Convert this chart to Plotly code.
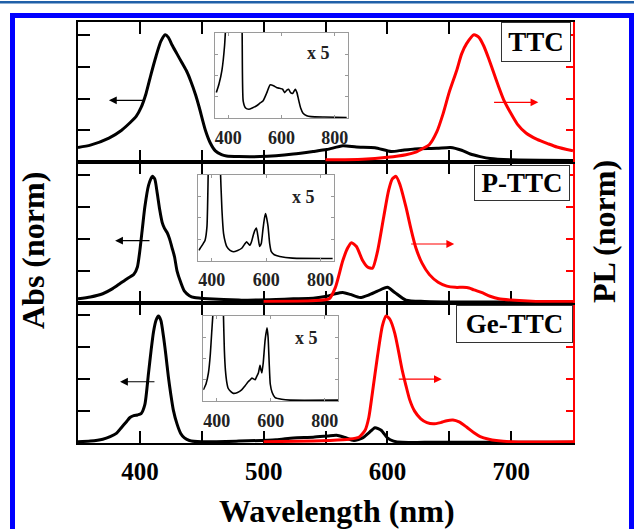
import plotly.graph_objects as go

# ---------------- data ----------------
# TTC (top panel)
ttc_abs_x = [350, 360, 375, 385, 392, 397, 401, 405, 409, 413, 417, 420.5, 423, 426, 430, 434, 438, 441, 445, 448,
             453, 457, 461, 466, 470, 480, 497, 510, 524, 540, 551, 564, 575, 590, 603, 612, 622, 640, 651, 660, 667,
             675, 683, 700, 750]
ttc_abs_y = [0.117, 0.135, 0.19, 0.25, 0.31, 0.36, 0.43, 0.54, 0.69, 0.83, 0.95, 1.0, 0.98, 0.92, 0.85, 0.78, 0.71,
             0.64, 0.53, 0.43, 0.25, 0.15, 0.09, 0.06, 0.05, 0.045, 0.045, 0.052, 0.065, 0.085, 0.10, 0.13, 0.12,
             0.115, 0.085, 0.095, 0.105, 0.11, 0.117, 0.095, 0.065, 0.045, 0.03, 0.02, 0.015]
ttc_pl_x = [550, 580, 600, 615, 623, 629, 634, 640, 645, 650, 656, 660, 664, 670, 674, 678, 682, 686, 690, 694, 700,
            705, 712, 721, 730, 737, 750]
ttc_pl_y = [0.02, 0.025, 0.04, 0.06, 0.08, 0.11, 0.14, 0.24, 0.38, 0.55, 0.72, 0.85, 0.93, 1.0, 0.98, 0.91, 0.81,
            0.70, 0.59, 0.49, 0.38, 0.30, 0.23, 0.18, 0.145, 0.12, 0.09]

# P-TTC (middle panel)
pttc_abs_x = [350, 360, 370, 378, 384, 390, 395, 398, 400, 402, 404, 407, 410, 412, 414, 416, 418, 420, 422, 424,
              426, 428, 430, 433, 436, 440, 444, 455, 480, 510, 524, 540, 551, 558, 564, 570, 578, 585, 592, 600,
              606, 615, 630, 660, 750]
pttc_abs_y = [0.03, 0.045, 0.07, 0.11, 0.15, 0.19, 0.22, 0.28, 0.41, 0.58, 0.75, 0.92, 0.99, 0.97, 0.86, 0.73,
              0.63, 0.58, 0.55, 0.50, 0.43, 0.36, 0.25, 0.16, 0.09, 0.055, 0.04, 0.03, 0.02, 0.025, 0.03, 0.035,
              0.05, 0.07, 0.08, 0.065, 0.04, 0.06, 0.09, 0.12, 0.08, 0.02, 0.01, 0.005, 0.005]
pttc_pl_x = [500, 540, 553, 558, 564, 568, 571, 575, 580, 584, 588, 592, 597, 601, 604, 607, 610, 615, 619, 623,
             628, 634, 641, 648, 655, 661, 666, 670, 676, 683, 690, 700, 720, 750]
pttc_pl_y = [0.01, 0.015, 0.03, 0.12, 0.33, 0.43, 0.47, 0.44, 0.33, 0.28, 0.27, 0.40, 0.67, 0.88, 0.97, 0.99,
             0.93, 0.75, 0.58, 0.43, 0.31, 0.22, 0.16, 0.13, 0.12, 0.12, 0.115, 0.10, 0.08, 0.05, 0.03, 0.02,
             0.01, 0.01]

# Ge-TTC (bottom panel)
gettc_abs_x = [350, 360, 370, 376, 381, 385, 389, 392, 395, 398, 401, 404, 407, 409, 411, 413, 415, 417, 419, 421,
               423, 425, 427, 430, 433, 436, 440, 450, 480, 510, 524, 540, 552, 559, 565, 573, 580, 585, 590, 595,
               600, 605, 612, 630, 750]
gettc_abs_y = [0.01, 0.015, 0.03, 0.05, 0.075, 0.12, 0.165, 0.2, 0.215, 0.22, 0.23, 0.30, 0.55, 0.72, 0.87, 0.96,
               0.995, 0.96, 0.84, 0.69, 0.52, 0.38, 0.26, 0.15, 0.075, 0.04, 0.02, 0.01, 0.015, 0.025, 0.04,
               0.045, 0.055, 0.06, 0.045, 0.02, 0.04, 0.08, 0.12, 0.10, 0.04, 0.015, 0.005, 0.005, 0.005]
gettc_pl_x = [500, 540, 553, 569, 577, 582, 585, 588, 592, 596, 599, 602, 606, 609, 612, 615, 618, 622, 627, 632,
              637, 643, 648, 653, 658, 664, 670, 675, 682, 688, 700, 750]
gettc_pl_y = [0.01, 0.015, 0.02, 0.03, 0.045, 0.10, 0.20, 0.40, 0.68, 0.92, 0.995, 0.97, 0.86, 0.72, 0.57, 0.45,
              0.34, 0.25, 0.19, 0.16, 0.15, 0.16, 0.175, 0.18, 0.165, 0.125, 0.08, 0.05, 0.03, 0.02, 0.01, 0.01]

# insets (absorption x 5)
ttc_in_x = [355, 365, 376, 386, 394, 405, 425, 445, 452, 456, 465, 477, 490, 508, 520, 531, 545, 557, 570, 581,
            593, 604, 612, 620, 627, 634, 642, 652, 658, 664, 672, 681, 695, 711, 760, 845]
ttc_in_y = [0.30, 0.40, 0.56, 0.85, 1.3, 2.0, 2.5, 2.0, 1.0, 0.2, 0.12, 0.105, 0.12, 0.15, 0.18, 0.205, 0.30,
            0.39, 0.38, 0.36, 0.35, 0.34, 0.30, 0.33, 0.34, 0.30, 0.29, 0.34, 0.30, 0.22, 0.12, 0.06, 0.03,
            0.02, 0.015, 0.01]
pttc_in_x = [352, 357, 368, 375, 382, 387, 395, 410, 425, 431, 437, 443, 450, 455, 467, 479, 495, 510, 520, 528,
             534, 540, 546, 551, 558, 564, 570, 576, 582, 588, 594, 598, 603, 607, 613, 619, 630, 650, 697, 845]
pttc_in_y = [0.12, 0.145, 0.2, 0.24, 0.4, 1.1, 2.0, 2.5, 2.0, 1.1, 0.6, 0.32, 0.21, 0.165, 0.12, 0.105, 0.12,
             0.145, 0.19, 0.22, 0.20, 0.18, 0.22, 0.28, 0.35, 0.38, 0.28, 0.165, 0.2, 0.36, 0.5, 0.55, 0.48,
             0.40, 0.2, 0.105, 0.07, 0.05, 0.03, 0.025]
gettc_in_x = [350, 360, 369, 376, 381, 387, 395, 410, 420, 424, 428, 432, 437, 442, 452, 461, 477, 492, 505, 517,
              524, 530, 536, 542, 548, 554, 560, 564, 567, 572, 579, 586, 590, 594, 598, 605, 616, 640, 671, 850]
gettc_in_y = [0.13, 0.2, 0.33, 0.55, 0.80, 1.1, 2.0, 2.5, 2.0, 1.1, 0.6, 0.36, 0.22, 0.15, 0.11, 0.09, 0.10,
              0.13, 0.18, 0.23, 0.25, 0.27, 0.26, 0.25, 0.29, 0.33, 0.42, 0.36, 0.33, 0.45, 0.72, 0.86, 0.75,
              0.45, 0.20, 0.10, 0.04, 0.02, 0.01, 0.01]

panel_labels = ["TTC", "P-TTC", "Ge-TTC"]
x_ticks = [400, 500, 600, 700]
inset_ticks = [400, 600, 800]

# ---------------- figure ----------------
FONT = "Liberation Serif, Times New Roman, serif"
BLACK = "#000000"
RED = "#FF0000"
L, R, T, B = 78, 61, 22, 86
W, H = 634, 529
PW, PH = W - L - R, H - T - B


def px(xp):
    return (xp - L) / PW


def py(yp):
    return (H - B - yp) / PH


fig = go.Figure()
panels = [
    (ttc_abs_x, ttc_abs_y, ttc_pl_x, ttc_pl_y, "x3", "y3", "y6"),
    (pttc_abs_x, pttc_abs_y, pttc_pl_x, pttc_pl_y, "x2", "y2", "y5"),
    (gettc_abs_x, gettc_abs_y, gettc_pl_x, gettc_pl_y, "x", "y", "y4"),
]
for ax_, ay_, plx, ply, xa, ya, yr in panels:
    fig.add_trace(go.Scatter(x=ax_, y=ay_, mode="lines", xaxis=xa, yaxis=ya,
                             line=dict(color=BLACK, width=3, shape="spline", smoothing=0.6)))
    fig.add_trace(go.Scatter(x=plx, y=ply, mode="lines", xaxis=xa, yaxis=yr,
                             line=dict(color=RED, width=3, shape="spline", smoothing=0.6)))

insets = [(ttc_in_x, ttc_in_y, "x4", "y7"), (pttc_in_x, pttc_in_y, "x5", "y8"), (gettc_in_x, gettc_in_y, "x6", "y9")]
for ix, iy, xa, ya in insets:
    fig.add_trace(go.Scatter(x=ix, y=iy, mode="lines", xaxis=xa, yaxis=ya,
                             line=dict(color=BLACK, width=1.6, shape="spline", smoothing=0.5)))

xcommon = dict(range=[350, 750], tickvals=x_ticks, ticks="inside", ticklen=12, tickwidth=2, tickcolor=BLACK,
               minor=dict(tickvals=[350, 450, 550, 650, 750], ticks="inside", ticklen=12, tickwidth=2,
                          tickcolor=BLACK),
               showline=True, linecolor=BLACK, linewidth=2, mirror="ticks", showgrid=False, zeroline=False,
               layer="below traces",
               tickfont=dict(family=FONT, size=25, color=BLACK, weight="bold"), ticklabelstandoff=5)
ylcommon = dict(range=[0, 1.1], tickvals=[0.25, 0.5, 0.75, 1.0], ticks="inside", ticklen=12, tickwidth=2,
                tickcolor=BLACK, showline=True, linecolor=BLACK, linewidth=2, showticklabels=False,
                showgrid=False, zeroline=False, layer="below traces")
yrcommon = dict(range=[0, 1.1], tickvals=[0.25, 0.5, 0.75, 1.0], ticks="inside", ticklen=7, tickwidth=2,
                tickcolor=RED, showline=True, linecolor=RED, linewidth=2, showticklabels=False,
                showgrid=False, zeroline=False, side="right", layer="below traces")

fig.update_layout(
    xaxis=dict(xcommon, domain=[0, 1], anchor="y", showticklabels=True),
    xaxis2=dict(xcommon, domain=[0, 1], anchor="y2", showticklabels=False),
    xaxis3=dict(xcommon, domain=[0, 1], anchor="y3", showticklabels=False),
    yaxis=dict(ylcommon, domain=[0, 1 / 3], anchor="x"),
    yaxis2=dict(ylcommon, domain=[1 / 3, 2 / 3], anchor="x2"),
    yaxis3=dict(ylcommon, domain=[2 / 3, 1], anchor="x3"),
    yaxis4=dict(yrcommon, overlaying="y", anchor="x"),
    yaxis5=dict(yrcommon, overlaying="y2", anchor="x2"),
    yaxis6=dict(yrcommon, overlaying="y3", anchor="x3"),
)

# inset axes: pixel boxes (left, right, top, bottom)
inset_boxes = [(215, 348, 32.7, 118.3), (198.3, 334, 175, 260.7), (203.3, 338.3, 316, 401)]
for i, (x0, x1, y0, y1) in enumerate(inset_boxes):
    xn, yn = 4 + i, 7 + i
    fig.update_layout({
        f"xaxis{xn}": dict(domain=[px(x0), px(x1)], anchor=f"y{yn}", range=[350, 850], tickvals=inset_ticks,
                           ticks="inside", ticklen=3, tickcolor="#9a9a9a", showline=True, linecolor="#9a9a9a",
                           linewidth=1, mirror="ticks", showgrid=False, zeroline=False,
                           tickfont=dict(family=FONT, size=18, color="#222222", weight="bold"),
                           ticklabelstandoff=3),
        f"yaxis{yn}": dict(domain=[py(y1), py(y0)], anchor=f"x{xn}", range=[0, 1], tickvals=[0.25, 0.5, 0.75],
                           ticks="inside", ticklen=3, tickcolor="#9a9a9a", showline=True, linecolor="#9a9a9a",
                           linewidth=1, mirror="ticks", showticklabels=False, showgrid=False, zeroline=False),
    })

annotations = []
# panel label boxes
label_boxes = [(536, 42, 66, 36), (522, 183, 92, 32), (514.5, 324, 113, 34)]
for text, (cx, cy, bw, bh) in zip(panel_labels, label_boxes):
    annotations.append(dict(text=text, x=px(cx), y=py(cy), xref="paper", yref="paper", showarrow=False,
                            xanchor="center", yanchor="middle", width=bw, height=bh, bgcolor="white",
                            bordercolor="#333333", borderwidth=1, borderpad=1,
                            font=dict(family=FONT, size=27, color=BLACK, weight="bold")))
# x 5 labels
for cx, cy in [(318, 53), (303, 196.7), (306.7, 338.3)]:
    annotations.append(dict(text="x 5", x=px(cx), y=py(cy), xref="paper", yref="paper", showarrow=False,
                            xanchor="center", yanchor="middle",
                            font=dict(family=FONT, size=18, color="#222222", weight="bold")))
# arrows (head, tail) in data coords
arrows = [
    ("x3", "y3", 375, 405, 0.486, BLACK), ("x3", "y3", 722, 685, 0.47, RED),
    ("x2", "y2", 380, 409, 0.486, BLACK), ("x2", "y2", 654, 618, 0.46, RED),
    ("x", "y", 384, 413, 0.48, BLACK), ("x", "y", 644, 608, 0.50, RED),
]
for xa, ya, hx, tx, yy, col in arrows:
    annotations.append(dict(x=hx, y=yy, ax=tx, ay=yy, xref=xa, yref=ya, axref=xa, ayref=ya, text="",
                            showarrow=True, arrowhead=2, arrowsize=1.3, arrowwidth=1.2, arrowcolor=col))
# axis titles
annotations.append(dict(text="Wavelength (nm)", x=px(337), y=py(511), xref="paper", yref="paper",
                        showarrow=False, xanchor="center", yanchor="middle",
                        font=dict(family=FONT, size=32, color=BLACK, weight="bold")))
annotations.append(dict(text="Abs (norm)", x=px(33), y=py(251), xref="paper", yref="paper", textangle=-90,
                        showarrow=False, xanchor="center", yanchor="middle",
                        font=dict(family=FONT, size=32, color=BLACK, weight="bold")))
annotations.append(dict(text="PL (norm)", x=px(604), y=py(232), xref="paper", yref="paper", textangle=-90,
                        showarrow=False, xanchor="center", yanchor="middle",
                        font=dict(family=FONT, size=32, color=BLACK, weight="bold")))

shapes = [
    dict(type="line", xref="paper", yref="paper", x0=px(0), x1=px(634), y0=py(2.3), y1=py(2.3),
         line=dict(color="#2060A8", width=2.5)),
    dict(type="rect", xref="paper", yref="paper", x0=px(12.5), x1=px(631.5), y0=py(560), y1=py(15.5),
         line=dict(color="#0000FF", width=5)),
]

fig.update_layout(width=W, height=H, margin=dict(l=L, r=R, t=T, b=B, autoexpand=False),
                  paper_bgcolor="white", plot_bgcolor="white", showlegend=False,
                  annotations=annotations, shapes=shapes)

fig.write_html("out.html", config={"displayModeBar": False},
               post_script="document.body.style.margin='0';document.body.style.padding='0';")
